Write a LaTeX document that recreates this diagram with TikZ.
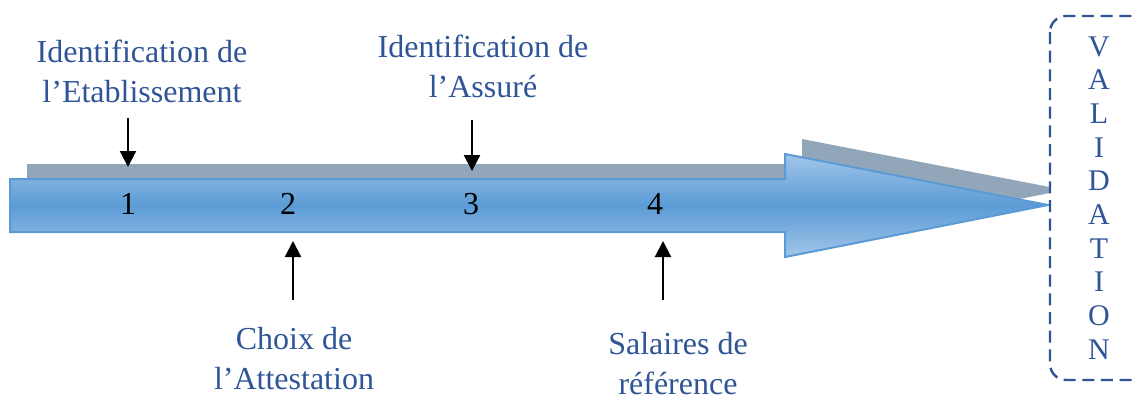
\documentclass[tikz,border=0pt]{standalone}
\usepackage{fontspec}
\setmainfont{Liberation Serif}
\usetikzlibrary{arrows.meta}

\definecolor{lblblue}{RGB}{47,85,151}
\definecolor{shadowgray}{RGB}{145,167,185}
\definecolor{arrowmid}{RGB}{91,155,213}
\definecolor{arrowlight}{RGB}{162,198,233}

\tikzset{every picture/.style={line width=0.75pt}}
\tikzset{
  lbl/.style={text=lblblue, align=center, inner sep=0pt, font=\fontsize{24}{30}\selectfont},
  num/.style={inner sep=0pt, font=\fontsize{24}{30}\selectfont},
  pointer/.style={line width=1.6pt, -{Triangle[width=12pt,length=12pt]}},
}

\begin{document}
\begin{tikzpicture}[x=0.75pt,y=0.75pt,yscale=-1,xscale=1]
\useasboundingbox (0,0) rectangle (1137,400);
\fill[white] (0,0) rectangle (1137,400);
\clip (0,0) rectangle (1137,400);

%Shape: Arrow shadow
\fill [shadowgray] (27,164) -- (802,164) -- (802,139) -- (1065,190) -- (802,242) -- (802,217) -- (27,217) -- cycle ;
%Shape: Right Arrow
\draw [draw=arrowmid, line width=1.5pt, top color=arrowlight, bottom color=arrowlight, middle color=arrowmid] (10,179) -- (785,179) -- (785,154) -- (1048,205) -- (785,257) -- (785,232) -- (10,232) -- cycle ;
%Shape: Rounded Rectangle
\draw [lblblue, fill=white, line width=1.8pt, dash pattern=on 9pt off 5pt, rounded corners=12pt] (1050,16) rectangle (1165,380) ;

% Text Node
\node [lbl, font=\fontsize{22.5}{25.25}\selectfont] (valid) at (1099,198) {V\\A\\L\\I\\D\\A\\T\\I\\O\\N};

% Text Node
\node [num] (n1) at (128,204) {1};
\node [num] (n2) at (288,204) {2};
\node [num] (n3) at (471,204) {3};
\node [num] (n4) at (655,204) {4};

% Text Node
\node [lbl] (etab) at (142,71) {Identification de\\l’Etablissement};
% Text Node
\node [lbl] (attest) at (294,359) {Choix de\\l’Attestation};
% Text Node
\node [lbl] (assure) at (483,66) {Identification de\\l’Assuré};
% Text Node
\node [lbl] (salaire) at (678,364) {Salaires de\\référence};

%Straight Lines
\coordinate (t1) at (128,118);
\coordinate (h1) at (128,167);
\draw [pointer] (t1) -- (h1) ;
\coordinate (t2) at (293,300);
\coordinate (h2) at (293,241);
\draw [pointer] (t2) -- (h2) ;
\coordinate (t3) at (472,120);
\coordinate (h3) at (472,171);
\draw [pointer] (t3) -- (h3) ;
\coordinate (t4) at (663,300);
\coordinate (h4) at (663,241);
\draw [pointer] (t4) -- (h4) ;

\end{tikzpicture}
\end{document}
